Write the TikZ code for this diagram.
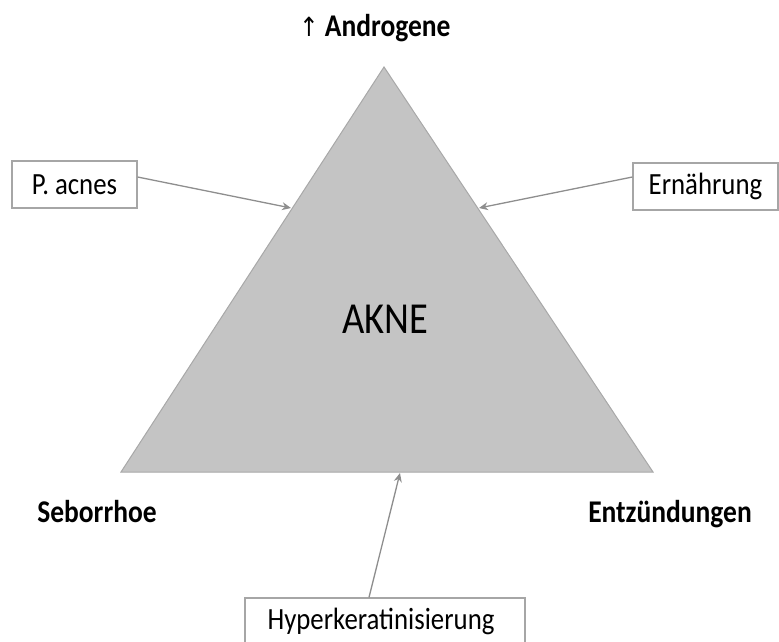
\documentclass[tikz,border=0pt]{standalone}
\usepackage{graphicx}
\usepackage{fontspec}
\setmainfont{Carlito}
\newfontfamily\symfont{DejaVu Sans}
\usetikzlibrary{arrows.meta}
\definecolor{trifill}{HTML}{C4C4C4}
\definecolor{triline}{HTML}{A8A8A8}
\definecolor{boxline}{HTML}{A6A6A6}
\definecolor{arrowcol}{HTML}{8E8E8E}
\newcommand\talltext[1]{\scalebox{1}[1.15]{#1}}
\tikzset{
  factorbox/.style={draw=boxline, line width=1.2pt, fill=white, inner sep=0pt,
    font=\fontsize{26.8}{30}\selectfont},
  corner/.style={anchor=base, inner sep=0pt, font=\fontsize{27.5}{30}\selectfont\bfseries},
  influence/.style={draw=arrowcol, line width=1.3pt, -{Stealth[length=9pt,width=8pt]}}
}
\begin{document}
\begin{tikzpicture}[x=1pt,y=-1pt]
\useasboundingbox (0,0) rectangle (779,642);
% triangle
\coordinate (apex) at (384,67);
\coordinate (bl) at (121,472);
\coordinate (br) at (653,472);
\fill[trifill] (apex) -- (bl) -- (br) -- cycle;
\draw[triline, line width=1pt, line join=miter] (apex) -- (bl) -- (br) -- cycle;
\node[anchor=base, inner sep=0pt, font=\fontsize{38.5}{44}\selectfont] (akne) at (385,333) {\talltext{AKNE}};
% corner labels
\node[corner] (andro) at (375,37) {\talltext{{\symfont\fontsize{23}{26}\selectfont\mdseries ↑} Androgene}};
\node[corner] (sebo) at (97,522) {\talltext{Seborrhoe}};
\node[corner] (entz) at (670,522) {\talltext{Entzündungen}};
% factor boxes
\node[factorbox, minimum width=125pt, minimum height=47pt] (pa) at (74.5,184.5) {\talltext{P. acnes}};
\node[factorbox, minimum width=145pt, minimum height=47pt] (er) at (705.5,186.5) {\talltext{Ernährung}};
\node[factorbox, minimum width=280pt, minimum height=47pt] (hk) at (385,621.5) {\hspace*{-8pt}\talltext{Hyperkeratinisierung}};
% arrow targets
\coordinate (tpa) at (291,208);
\coordinate (ter) at (479,208);
\coordinate (thk) at (400,473);
\draw[influence] ([yshift=7.5pt]pa.east) -- (tpa);
\draw[influence] ([yshift=9.5pt]er.west) -- (ter);
\draw[influence] ([xshift=-16pt]hk.north) -- (thk);
\end{tikzpicture}
\end{document}
